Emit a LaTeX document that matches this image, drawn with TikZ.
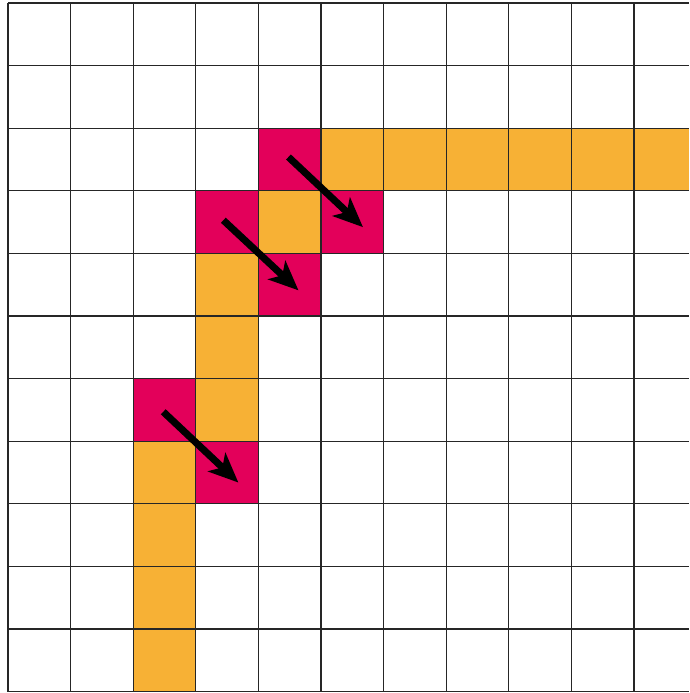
\documentclass[tikz,border=0pt]{standalone}
\usepackage[table]{xcolor}
\usetikzlibrary{arrows.meta}

\definecolor{pathorange}{RGB}{247,177,53}
\definecolor{stepred}{RGB}{227,0,90}

\tikzset{
  gridline/.style={line width=0.6pt,color=black!85},
  movearrow/.style={line width=3.2pt,-{Stealth[length=13.5pt,width=11.5pt,inset=3.5pt]}}
}

\begin{document}
\begin{tikzpicture}[x=1cm,y=1cm,yscale=-1,xscale=1]

\useasboundingbox (-0.128,-0.048) rectangle (10.879,11.022);

% orange path cells
\foreach \c/\r in {5/2,6/2,7/2,8/2,9/2,4/3,3/4,3/5,3/6,2/7,2/8,2/9,2/10}
  \fill [pathorange] (\c,\r) rectangle ++(1,1);
\fill [pathorange] (10,2) rectangle (10.879,3);

% red step cells
\foreach \c/\r in {4/2,3/3,5/3,4/4,2/6,3/7}
  \fill [stepred] (\c,\r) rectangle ++(1,1);

% grid
\foreach \c in {0,...,10}
  \draw [gridline] (\c,0) -- (\c,11);
\foreach \r in {0,...,11}
  \draw [gridline] (0,\r) -- (10.879,\r);

% arrows
\coordinate (a1) at (4.48,2.46);
\coordinate (b1) at (5.67,3.58);
\coordinate (a2) at (3.44,3.47);
\coordinate (b2) at (4.64,4.59);
\coordinate (a3) at (2.48,6.53);
\coordinate (b3) at (3.68,7.66);

\draw [movearrow] (a1) -- (b1);
\draw [movearrow] (a2) -- (b2);
\draw [movearrow] (a3) -- (b3);

\end{tikzpicture}
\end{document}
